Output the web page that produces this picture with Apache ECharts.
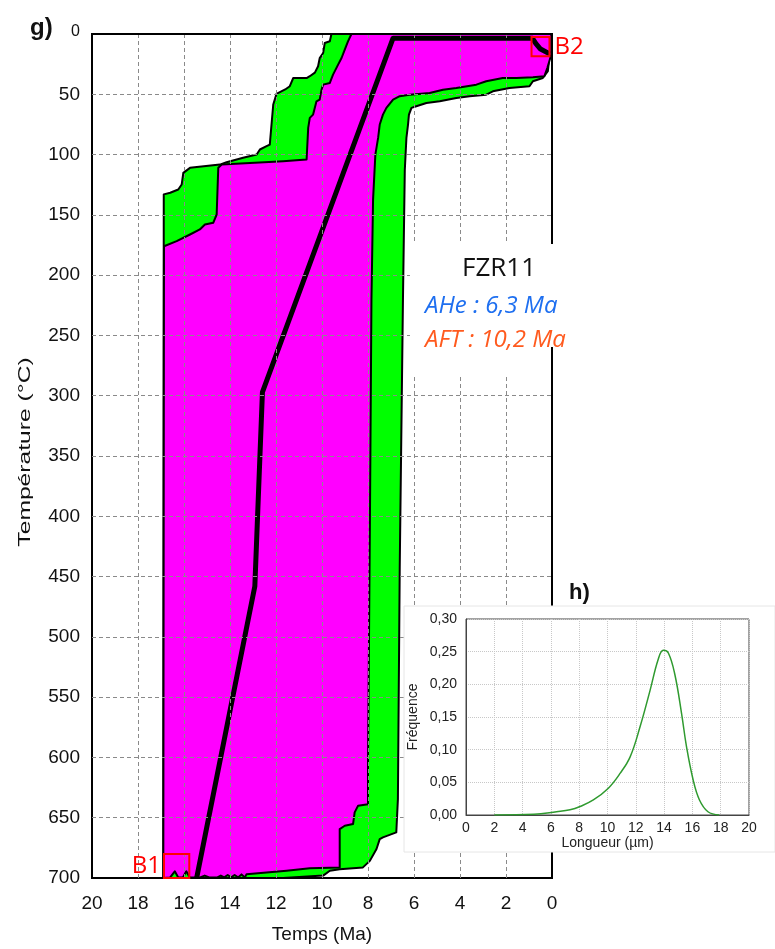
<!DOCTYPE html>
<html lang="fr">
<head>
  <meta charset="UTF-8">
  <script src="https://cdn.jsdelivr.net/npm/echarts@6/dist/echarts.min.js"></script>
  <title>FZR11 t-T path</title>
  <style>html, body {margin: 0; padding: 0; background: #fff;}</style>
</head>
<body>
<div id="chart" style="width: 775px; height: 949px;"></div>
<script type="text/javascript">
  // [temps (Ma), température (°C)] - enveloppe des chemins acceptables (vert)
  let acceptable = [
    [9.59, 0], [9.66, 6], [9.88, 7.5], [9.95, 15.7], [10.1, 20], [10.17, 26.8], [10.31, 32],
    [10.53, 35], [10.67, 36.5], [11.25, 36.5], [11.4, 43.3], [11.6, 46], [11.98, 49.7],
    [12.12, 58.5], [12.27, 91.7], [12.41, 93], [12.7, 95.8], [12.84, 100], [13.43, 102.7],
    [14.15, 106.3], [14.44, 108.3], [15.74, 111], [16.03, 115.2], [16.1, 124.8], [16.25, 129],
    [16.6, 131.7], [16.88, 133], [16.9, 700], [11.69, 700], [9.95, 698], [9.66, 694],
    [9.23, 692.7], [8.22, 691.2], [7.92, 685.8], [7.63, 676], [7.49, 667.8], [7.35, 666.3],
    [6.77, 662.2], [6.7, 634.6], [6.62, 441.6], [6.55, 330.6], [6.48, 220], [6.4, 112.7],
    [6.33, 86.2], [6.26, 75.1], [6.22, 66.9], [6.11, 61.3], [5.9, 59.9], [5.46, 57.2],
    [4.88, 55.8], [4.16, 53], [3.58, 51.6], [2.86, 50.3], [2.57, 47.5], [1.85, 44.7],
    [0.98, 43.3], [0.83, 39.2], [0.4, 36.5], [0.18, 30.9], [0.11, 18.5], [0.02, 8], [0.02, 0]
  ];

  // enveloppe des bons chemins (magenta)
  let good = [
    [8.72, 0], [0.03, 0], [0.03, 17], [0.2, 28], [0.33, 35], [0.83, 35.9], [1.55, 36.5],
    [2.14, 36.5], [2.86, 39.2], [3.29, 42], [4.16, 44.7], [4.74, 46.2], [5.32, 48.9],
    [6.19, 50.3], [6.62, 51.6], [6.91, 54.4], [7.2, 61.3], [7.35, 66.9], [7.49, 75.1],
    [7.56, 86.2], [7.68, 100], [7.78, 137.5], [7.85, 220], [7.92, 413], [8.0, 607],
    [8.0, 638.8], [8.43, 640], [8.58, 645.6], [8.65, 655.3], [9.01, 656.7], [9.23, 659.5],
    [9.23, 691.2], [10.53, 692], [11.54, 694], [13.28, 696.8], [13.35, 699.5], [13.5, 697],
    [13.65, 699.5], [13.8, 697.5], [13.95, 699.5], [14.1, 697.5], [14.25, 699.5], [14.4, 698],
    [14.55, 699.5], [14.9, 699.5], [15.1, 698], [15.3, 699.5], [15.75, 699.5], [15.9, 694.5],
    [16.05, 699.5], [16.25, 699.5], [16.4, 694.5], [16.6, 699.5], [16.9, 700],
    [16.87, 176], [16.32, 171.8], [15.74, 166.3], [15.31, 162.1], [15.09, 158], [14.73, 156.6],
    [14.58, 149.7], [14.51, 111], [14.36, 108.3], [13.13, 106.9], [11.69, 105.5], [10.67, 104.1],
    [10.6, 77.9], [10.53, 69.6], [10.39, 66.9], [10.24, 55.8], [10.1, 54.4], [10.02, 46.1],
    [9.95, 42], [9.66, 40.6], [9.52, 33.7], [9.3, 25.4], [9.15, 19.9], [9.01, 13],
    [8.87, 6.1], [8.72, 0]
  ];

  // meilleur chemin
  let bestPath = [
    [15.45, 700], [12.92, 458], [12.59, 297], [6.91, 3.5], [0.85, 3.5], [0.7, 8],
    [0.5, 12.5], [0.1, 16.5]
  ];

  // boites B1 / B2 : [t1, T1, t2, T2]
  let boxes = [[16.87, 680, 15.77, 700], [0.89, 2.5, 0.11, 18.5]];
  let boxNames = ['B1', 'B2'];

  // distribution des longueurs de traces (h)
  let lengthUm = [2, 4.8, 6.4, 7.35, 8.06, 9, 10.06, 10.9, 11.6, 12.3, 13, 13.58, 13.94,
    14.3, 14.76, 15.23, 15.58, 16.05, 16.5, 17.1, 17.9];
  let frequency = [0, 0.001, 0.005, 0.008, 0.013, 0.023, 0.041, 0.064, 0.089, 0.135, 0.19,
    0.238, 0.252, 0.248, 0.215, 0.156, 0.105, 0.054, 0.023, 0.005, 0];

  let font = 'Liberation Sans, Arial, sans-serif';

  function envelope(points, fill, z) {
    return {
      type: 'custom',
      xAxisIndex: 0,
      yAxisIndex: 0,
      z: z,
      silent: true,
      data: points,
      renderItem: function (params, api) {
        if (params.dataIndex !== 0) return null;
        return {
          type: 'polygon',
          shape: {points: points.map(function (p) { return api.coord(p); })},
          style: {fill: fill, stroke: '#000', lineWidth: 2, lineJoin: 'round'}
        };
      }
    };
  }

  function drawChart() {
    let chart = echarts.init(document.getElementById('chart'));
    let option = {
      animation: false,
      backgroundColor: '#fff',
      grid: [
        {left: 92, right: 223, top: 34, bottom: 70, show: true, borderColor: '#000', borderWidth: 2, z: 5},
        {left: 466, right: 26, top: 619, bottom: 134, show: true, borderColor: '#444', borderWidth: 1,
          backgroundColor: '#fff', z: 20}
      ],
      xAxis: [
        {
          type: 'value', gridIndex: 0, min: 0, max: 20, interval: 2, inverse: true, z: 6,
          axisLine: {lineStyle: {color: '#000', width: 2}},
          axisTick: {show: false},
          axisLabel: {fontSize: 19, color: '#111', margin: 16, fontFamily: font},
          splitLine: {show: true, showMinLine: false, showMaxLine: false,
            lineStyle: {color: '#8a8a8a', type: [4, 3], width: 1}},
          name: 'Temps (Ma)', nameLocation: 'middle', nameGap: 47,
          nameTextStyle: {fontSize: 19, color: '#111', fontFamily: font}
        },
        {
          type: 'value', gridIndex: 1, min: 0, max: 20, interval: 2, z: 21,
          axisLine: {lineStyle: {color: '#444', width: 1}},
          axisTick: {show: false},
          axisLabel: {fontSize: 14, color: '#222', margin: 6, fontFamily: font},
          splitLine: {show: true, lineStyle: {color: '#c8c8c8', type: 'dotted', width: 1}},
          name: 'Longueur (µm)', nameLocation: 'middle', nameGap: 20,
          nameTextStyle: {fontSize: 14, color: '#222', fontFamily: font}
        }
      ],
      yAxis: [
        {
          type: 'value', gridIndex: 0, min: 0, max: 700, interval: 50, inverse: true, z: 6,
          axisLine: {lineStyle: {color: '#000', width: 2}},
          axisTick: {show: false},
          axisLabel: {
            fontSize: 19, color: '#111', margin: 12, fontFamily: font,
            formatter: function (v) { return v === 0 ? '{s|0}' : String(v); },
            rich: {s: {fontSize: 16, fontFamily: font, color: '#111', padding: [0, 0, 5, 0]}}
          },
          splitLine: {show: true, showMinLine: false, showMaxLine: false,
            lineStyle: {color: '#8a8a8a', type: [4, 3], width: 1}}
        },
        {
          type: 'value', gridIndex: 1, min: 0, max: 0.3, interval: 0.05, z: 21,
          axisLine: {lineStyle: {color: '#444', width: 1}},
          axisTick: {show: false},
          axisLabel: {fontSize: 14, color: '#222', margin: 9, fontFamily: font,
            formatter: function (v) { return v.toFixed(2).replace('.', ','); }},
          splitLine: {show: true, lineStyle: {color: '#c8c8c8', type: 'dotted', width: 1}},
          name: 'Fréquence', nameLocation: 'middle', nameGap: 46,
          nameTextStyle: {fontSize: 14, color: '#222', fontFamily: font}
        }
      ],
      series: [
        envelope(acceptable, '#00ff00', 2),
        envelope(good, '#ff00ff', 3),
        {
          type: 'line', xAxisIndex: 0, yAxisIndex: 0, z: 4, data: bestPath,
          symbol: 'none', silent: true,
          lineStyle: {color: '#000', width: 5, join: 'round'}
        },
        {
          type: 'custom', xAxisIndex: 0, yAxisIndex: 0, z: 7, silent: true, data: boxes,
          renderItem: function (params, api) {
            let a = api.coord([api.value(0), api.value(1)]);
            let b = api.coord([api.value(2), api.value(3)]);
            let left = params.dataIndex === 0;
            return {
              type: 'group',
              children: [
                {type: 'rect', shape: {x: a[0], y: a[1], width: b[0] - a[0], height: b[1] - a[1]},
                  style: {fill: 'none', stroke: '#ff0000', lineWidth: 2}},
                {type: 'text', x: left ? a[0] - 3 : b[0] + 5, y: (a[1] + b[1]) / 2,
                  style: {text: boxNames[params.dataIndex], fill: '#ff0000', fontSize: 24,
                    fontFamily: 'Open Sans, sans-serif', align: left ? 'right' : 'left', verticalAlign: 'middle'}}
              ]
            };
          }
        },
        {
          type: 'line', xAxisIndex: 1, yAxisIndex: 1, z: 22, silent: true,
          data: lengthUm.map(function (x, i) { return [x, frequency[i]]; }),
          smooth: 0.4, symbol: 'none',
          lineStyle: {color: '#2f9a2f', width: 1.5}
        }
      ],
      graphic: [
        {type: 'rect', z: 10, silent: true, shape: {x: 410, y: 244, width: 180, height: 103}, style: {fill: '#fff'}},
        {type: 'rect', z: 10, silent: true, shape: {x: 410, y: 244, width: 141, height: 130}, style: {fill: '#fff'}},
        {type: 'rect', z: 10, silent: true, shape: {x: 404, y: 606, width: 371, height: 246},
          style: {fill: '#fff', stroke: '#e6e6e6', lineWidth: 1}},
        {type: 'text', z: 11, left: 462, top: 256,
          style: {text: 'FZR11', fontSize: 26, fill: '#111', fontFamily: 'Open Sans, sans-serif'}},
        {type: 'text', z: 11, left: 425, top: 294,
          style: {text: 'AHe : 6,3 Ma', fontSize: 24, fontStyle: 'italic', fill: '#1e6ff0', fontFamily: 'Open Sans, sans-serif'}},
        {type: 'text', z: 11, left: 425, top: 328,
          style: {text: 'AFT : 10,2 Ma', fontSize: 24, fontStyle: 'italic', fill: '#ff5a1e', fontFamily: 'Open Sans, sans-serif'}},
        {type: 'text', z: 11, left: 30, top: 16,
          style: {text: 'g)', fontSize: 24, fontWeight: 'bold', fill: '#111', fontFamily: font}},
        {type: 'text', z: 11, left: 569, top: 582,
          style: {text: 'h)', fontSize: 22, fontWeight: 'bold', fill: '#111', fontFamily: font}},
        // titre de l'axe des températures, police étroite et haute comme dans l'original
        {type: 'text', z: 11, x: 25, y: 452, rotation: Math.PI / 2, scaleX: 1.45,
          style: {text: 'Température (°C)', fontSize: 17, fill: '#111', fontFamily: font,
            align: 'center', verticalAlign: 'middle'}}
      ]
    };
    chart.setOption(option);
  }

  drawChart();
</script>
</body>
</html>
